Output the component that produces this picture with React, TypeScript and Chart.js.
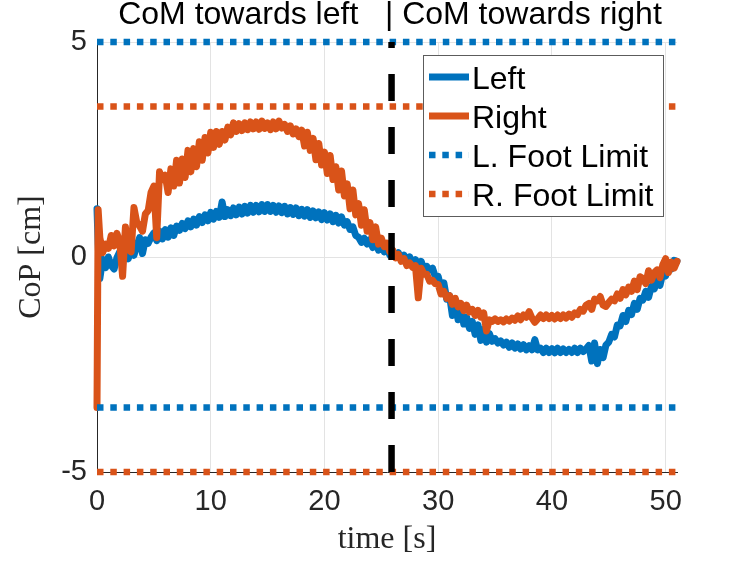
import { useEffect, useRef } from "react";
import { Chart, registerables } from "chart.js";

Chart.register(...registerables);

const SANS = "'Liberation Sans', Arial, sans-serif";
const SERIF = "'Liberation Serif', 'Times New Roman', serif";
const BLUE = "#0072BD";
const ORANGE = "#D95319";

// sample times [s]
const time = [
  0, 0.1, 0.25, 0.5, 0.75,
  1, 1.25, 1.5, 1.75, 2, 2.25, 2.5, 2.75, 3, 3.25, 3.5, 3.75, 4, 4.25, 4.5, 4.75,
  5, 5.25, 5.5, 5.75, 6, 6.25, 6.5, 6.75, 7, 7.25, 7.5, 7.75, 8, 8.25, 8.5, 8.75,
  9, 9.25, 9.5, 9.75, 10, 10.25, 10.5, 10.75, 11, 11.25, 11.5, 11.75, 12, 12.25, 12.5, 12.75,
  13, 13.25, 13.5, 13.75, 14, 14.25, 14.5, 14.75, 15, 15.25, 15.5, 15.75, 16, 16.25, 16.5, 16.75,
  17, 17.25, 17.5, 17.75, 18, 18.25, 18.5, 18.75, 19, 19.25, 19.5, 19.75, 20, 20.25, 20.5, 20.75,
  21, 21.25, 21.5, 21.75, 22, 22.25, 22.5, 22.75, 23, 23.25, 23.5, 23.75, 24, 24.25, 24.5, 24.75,
  25, 25.25, 25.5, 25.75, 26, 26.25, 26.5, 26.75, 27, 27.25, 27.5, 27.75, 28, 28.25, 28.5, 28.75,
  29, 29.25, 29.5, 29.75, 30, 30.25, 30.5, 30.75, 31, 31.25, 31.5, 31.75, 32, 32.25, 32.5, 32.75,
  33, 33.25, 33.5, 33.75, 34, 34.25, 34.5, 34.75, 35, 35.25, 35.5, 35.75, 36, 36.25, 36.5, 36.75,
  37, 37.25, 37.5, 37.75, 38, 38.25, 38.5, 38.75, 39, 39.25, 39.5, 39.75, 40, 40.25, 40.5, 40.75,
  41, 41.25, 41.5, 41.75, 42, 42.25, 42.5, 42.75, 43, 43.25, 43.5, 43.75, 44, 44.25, 44.5, 44.75,
  45, 45.25, 45.5, 45.75, 46, 46.25, 46.5, 46.75, 47, 47.25, 47.5, 47.75, 48, 48.25, 48.5, 48.75,
  49, 49.25, 49.5, 49.75, 50, 50.25, 50.5, 50.75,
  51,
];

// CoP of the left foot [cm]
const leftCoP = [
  1.12, 0.3, -0.5, -0.05, -0.25,
  0.0, -0.2, -0.28, -0.02, 0.12, -0.06, 0.08, -0.04, 0.16, 0.04, 0.26, 0.45, 0.08, 0.4, 0.32, 0.46,
  0.56, 0.38, 0.6, 0.42, 0.64, 0.46, 0.68, 0.5, 0.72, 0.62, 0.78, 0.66, 0.84, 0.7, 0.88, 0.74,
  0.94, 0.8, 0.98, 0.84, 1.04, 0.88, 1.06, 0.92, 1.28, 0.94, 1.1, 0.96, 1.14, 0.98, 1.16, 1.0,
  1.18, 1.02, 1.2, 1.04, 1.2, 1.05, 1.22, 1.06, 1.22, 1.06, 1.2, 1.04, 1.19, 1.03, 1.18, 1.0,
  1.15, 0.99, 1.14, 0.96, 1.11, 0.95, 1.1, 0.92, 1.07, 0.91, 1.05, 0.87, 1.03, 0.86, 1.0, 0.82,
  0.97, 0.79, 0.93, 0.74, 0.82, 0.64, 0.7, 0.5, 0.46, 0.34, 0.44, 0.3, 0.4, 0.22, 0.36, 0.16,
  0.3, 0.12, 0.22, 0.04, 0.14, 0.02, 0.1, -0.04, 0.04, -0.08, 0.0, -0.16, -0.06, -0.24, -0.1, -0.28,
  -0.22, -0.3, -0.26, -0.46, -0.45, -0.72, -0.6, -0.98, -0.9, -1.36, -1.0, -1.46, -1.2, -1.56, -1.4, -1.66,
  -1.5, -1.8, -1.58, -1.94, -1.68, -1.98, -1.78, -1.96, -1.9, -2.0, -1.95, -2.05, -1.98, -2.1, -2.0, -2.12,
  -2.02, -2.14, -2.04, -2.16, -2.06, -2.16, -1.92, -2.16, -2.12, -2.22, -2.12, -2.22, -2.13, -2.23, -2.12, -2.22,
  -2.14, -2.22, -2.15, -2.22, -2.12, -2.22, -2.12, -2.2, -2.14, -2.06, -2.42, -2.0, -2.48, -2.15, -2.34, -2.05,
  -1.98, -1.8, -1.86, -1.58, -1.6, -1.36, -1.5, -1.24, -1.34, -1.08, -1.22, -0.96, -1.0, -0.8, -0.94, -0.68,
  -0.74, -0.54, -0.66, -0.38, -0.44, -0.18, -0.28, -0.08,
  -0.1,
];

// CoP of the right foot [cm]
const rightCoP = [
  -3.5, 1.1, 0.45, 0.1, 0.3,
  0.2, 0.5, 0.26, 0.55, 0.35, -0.45, 0.7, 0.18, 0.12, 1.15, 0.8, 0.72, 0.6, 1.0, 1.08, 1.5,
  1.65, 0.45, 1.98, 1.8, 1.9, 1.5, 2.05, 1.65, 2.25, 1.72, 2.28, 1.85, 2.48, 1.98, 2.52, 2.1,
  2.68, 2.25, 2.78, 2.42, 2.9, 2.55, 2.92, 2.62, 2.92, 2.72, 3.02, 2.84, 3.12, 2.92, 3.1, 2.94,
  3.12, 2.96, 3.14, 2.98, 3.14, 2.97, 3.16, 2.99, 3.12, 2.96, 3.14, 2.98, 3.16, 3.0, 3.08, 2.92,
  3.05, 2.86, 2.98, 2.8, 2.95, 2.58, 2.9, 2.48, 2.76, 2.26, 2.64, 2.14, 2.44, 1.94, 2.36, 1.8,
  2.1, 1.56, 2.0, 1.42, 1.7, 1.12, 1.56, 0.98, 1.24, 0.74, 1.1, 0.6, 0.8, 0.4, 0.7, 0.3,
  0.44, 0.24, 0.32, 0.12, 0.16, -0.02, 0.06, -0.1, -0.04, -0.2, -0.14, -0.24, -0.2, -0.95, -0.26, -0.4,
  -0.4, -0.56, -0.54, -0.62, -0.64, -0.86, -0.8, -0.96, -0.9, -1.1, -0.96, -1.16, -1.08, -1.25, -1.12, -1.28,
  -1.22, -1.36, -1.24, -1.4, -1.3, -1.72, -1.46, -1.5, -1.44, -1.5, -1.46, -1.51, -1.44, -1.49, -1.42, -1.47,
  -1.37, -1.46, -1.35, -1.4, -1.27, -1.42, -1.52, -1.44, -1.35, -1.43, -1.35, -1.43, -1.36, -1.44, -1.35, -1.43,
  -1.35, -1.42, -1.33, -1.4, -1.3, -1.34, -1.22, -1.26, -1.12, -1.08, -1.22, -0.98, -1.02, -0.92, -1.12, -1.15,
  -1.06, -0.98, -1.02, -0.86, -0.96, -0.76, -0.88, -0.7, -0.8, -0.56, -0.76, -0.46, -0.5, -0.62, -0.32, -0.54,
  -0.36, -0.3, -0.48, -0.18, -0.04, -0.36, -0.12, -0.26,
  -0.1,
];

const leftFootLimits = [5, -3.5];
const rightFootLimits = [3.5, -5];
const timeRange = [0, 51];
const phaseSwitchTime = 25.9;
const phaseLabels = ["CoM towards left", "CoM towards right"];
const seriesLabels = ["Left", "Right", "L. Foot Limit", "R. Foot Limit"];

const toPoints = (values: number[]) => time.map((t, i) => ({ x: t, y: values[i] }));
const limitPoints = (limits: number[]) =>
  limits.flatMap((v, i) => [
    ...(i > 0 ? [{ x: timeRange[1], y: null }] : []),
    { x: timeRange[0], y: v },
    { x: timeRange[1], y: v },
  ]);

// legend box drawn inside the axes, top right (MATLAB style)
const insideLegend = {
  id: "insideLegend",
  afterDatasetsDraw(chart: any) {
    const { ctx, chartArea } = chart;
    const items = chart.data.datasets.filter((d: any) => d.label);
    ctx.save();
    ctx.font = `32px ${SANS}`;
    const textW = Math.max(...items.map((d: any) => ctx.measureText(d.label).width));
    const rowH = 39;
    const w = Math.round(49 + textW + 10);
    const h = Math.round(5 + items.length * rowH);
    const x = Math.round(chartArea.right - 14 - w);
    const y = Math.round(chartArea.top + 13);
    ctx.fillStyle = "#ffffff";
    ctx.fillRect(x, y, w, h);
    ctx.strokeStyle = "#5c5c5c";
    ctx.lineWidth = 1;
    ctx.strokeRect(x + 0.5, y + 0.5, w, h);
    items.forEach((d: any, i: number) => {
      const cy = y + 2.5 + rowH * i + rowH / 2;
      ctx.beginPath();
      ctx.setLineDash(d.borderDash || []);
      ctx.lineDashOffset = 0;
      ctx.lineCap = "butt";
      ctx.lineWidth = d.borderWidth;
      ctx.strokeStyle = d.borderColor;
      ctx.moveTo(x + 6, cy);
      ctx.lineTo(x + 46, cy);
      ctx.stroke();
      ctx.setLineDash([]);
      ctx.fillStyle = "#000000";
      ctx.textAlign = "left";
      ctx.textBaseline = "alphabetic";
      ctx.fillText(d.label, x + 49, cy + 11.5);
    });
    ctx.restore();
  },
};

// phase text above the axes
const phaseTitle = {
  id: "phaseTitle",
  afterDraw(chart: any) {
    const { ctx, chartArea } = chart;
    ctx.save();
    ctx.font = `32px ${SANS}`;
    ctx.fillStyle = "#000000";
    ctx.textAlign = "center";
    ctx.textBaseline = "alphabetic";
    ctx.fillText(phaseLabels.join("   | "), (chartArea.left + chartArea.right) / 2 + 3, 24);
    ctx.restore();
  },
};

export default function App() {
  const canvasRef = useRef<HTMLCanvasElement>(null);

  useEffect(() => {
    if (!canvasRef.current) return;
    const chart = new Chart(canvasRef.current, {
      type: "line",
      data: {
        datasets: [
          {
            label: seriesLabels[0],
            data: toPoints(leftCoP),
            borderColor: BLUE,
            borderWidth: 7,
            pointRadius: 0,
            tension: 0,
            borderJoinStyle: "round",
            borderCapStyle: "round",
            clip: 8,
            order: 5,
          },
          {
            label: seriesLabels[1],
            data: toPoints(rightCoP),
            borderColor: ORANGE,
            borderWidth: 7,
            pointRadius: 0,
            tension: 0,
            borderJoinStyle: "round",
            borderCapStyle: "round",
            clip: 8,
            order: 4,
          },
          {
            label: seriesLabels[2],
            data: limitPoints(leftFootLimits),
            borderColor: BLUE,
            borderWidth: 6.5,
            borderDash: [6.5, 6.8],
            pointRadius: 0,
            clip: 8,
            order: 3,
          },
          {
            label: seriesLabels[3],
            data: limitPoints(rightFootLimits),
            borderColor: ORANGE,
            borderWidth: 6.5,
            borderDash: [6.5, 6.8],
            pointRadius: 0,
            clip: 8,
            order: 2,
          },
          {
            label: "",
            data: [
              { x: phaseSwitchTime, y: -5 },
              { x: phaseSwitchTime, y: 5 },
            ],
            borderColor: "#000000",
            borderWidth: 6.5,
            borderDash: [27, 26],
            pointRadius: 0,
            order: 1,
          },
        ] as any,
      },
      options: {
        responsive: true,
        maintainAspectRatio: false,
        animation: false,
        events: [],
        layout: { padding: { left: 0, right: 70, top: 42, bottom: 0 } },
        plugins: {
          legend: { display: false },
          tooltip: { enabled: false },
          title: { display: false },
        },
        scales: {
          x: {
            type: "linear",
            min: timeRange[0],
            max: timeRange[1],
            afterFit: (s: any) => {
              s.height = 89;
            },
            ticks: {
              stepSize: 10,
              includeBounds: false,
              padding: 13,
              maxRotation: 0,
              color: "#262626",
              font: { family: SANS, size: 29 },
            },
            grid: { color: "#e3e3e3", drawTicks: false },
            border: { color: "#262626", width: 1 },
            title: {
              display: true,
              text: "time [s]",
              color: "#262626",
              font: { family: SERIF, size: 32 },
              padding: { top: 0, bottom: 2 },
            },
          },
          y: {
            min: -5,
            max: 5,
            afterFit: (s: any) => {
              s.width = 97;
            },
            ticks: {
              stepSize: 5,
              padding: 10,
              color: "#262626",
              font: { family: SANS, size: 29 },
            },
            grid: { color: "#e3e3e3", drawTicks: false },
            border: { color: "#262626", width: 1 },
            title: {
              display: true,
              text: "CoP [cm]",
              color: "#262626",
              font: { family: SERIF, size: 32 },
              padding: { top: 12, bottom: 0 },
            },
          },
        },
      } as any,
      plugins: [insideLegend, phaseTitle],
    });
    return () => chart.destroy();
  }, []);

  return (
    <div style={{ position: "absolute", left: 0, top: 0, width: 747, height: 561, background: "#ffffff" }}>
      <canvas
        ref={canvasRef}
        role="img"
        aria-label="CoP of left and right foot over time with foot limits"
      />
    </div>
  );
}
